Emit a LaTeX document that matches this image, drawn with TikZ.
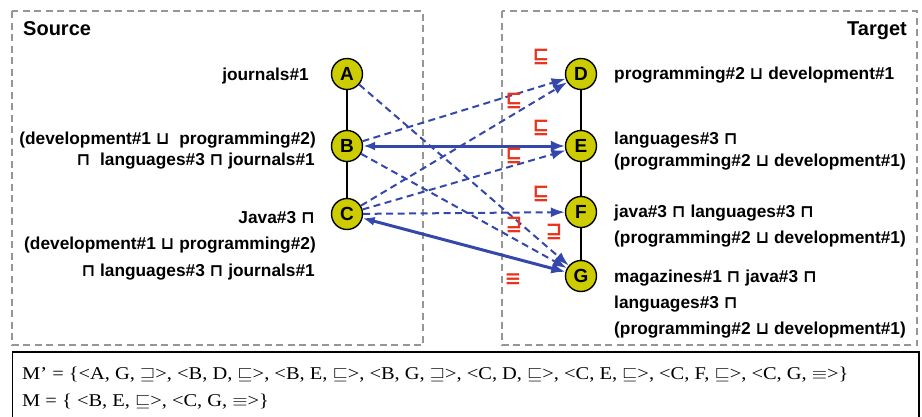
\documentclass[tikz,border=0pt]{standalone}
\usepackage{fontspec}
\setmainfont{Liberation Serif}
\newfontfamily\labelfont{Liberation Sans}
\newfontfamily\symfont{DejaVu Sans}
\usetikzlibrary{arrows.meta}

\definecolor{framegray}{RGB}{150,150,150}
\definecolor{conceptfill}{RGB}{204,204,0}
\definecolor{linkblue}{RGB}{52,72,172}
\definecolor{relred}{RGB}{232,52,30}

% lattice operators in the concept labels
\newcommand{\lmeet}{{\symfont\bfseries ⊓}}
\newcommand{\ljoin}{{\symfont\bfseries ⊔}}

\begin{document}
\begin{tikzpicture}[x=1pt,y=-1pt,
  frame/.style={draw=framegray, line width=1.4pt, dash pattern=on 7pt off 4.5pt},
  concept/.style={circle, draw=black, line width=1.4pt, fill=conceptfill,
    minimum size=31pt, inner sep=0pt, font=\labelfont\bfseries\fontsize{19}{19}\selectfont},
  txt/.style={font=\labelfont\bfseries\fontsize{17.3}{20}\selectfont, inner sep=0pt},
  title/.style={font=\labelfont\bfseries\fontsize{20}{24}\selectfont, inner sep=0pt},
  rel/.style={text=relred, font=\symfont\bfseries\fontsize{20}{20}\selectfont, inner sep=0pt},
  chain/.style={draw=black, line width=1.3pt},
  cand/.style={draw=linkblue, line width=2pt, dash pattern=on 7pt off 4.5pt,
    -{Latex[length=14pt,width=10pt]}},
  found/.style={draw=linkblue, line width=3pt,
    {Latex[length=12pt,width=9pt]}-{Latex[length=14pt,width=11pt]}},
  mapping/.style={font=\fontsize{18}{18}\selectfont, inner sep=0pt}
]
\useasboundingbox (0,0) rectangle (922,416);

% source and target frames
\draw[frame] (12,11) rectangle (423,345);
\draw[frame] (502,11) rectangle (917,345);
\node[title, anchor=base west] (srcT) at (23,35) {Source};
\node[title, anchor=base east] (tgtT) at (907,35) {Target};

% concept nodes
\node[concept] (A) at (347,74) {A};
\node[concept] (B) at (347,146) {B};
\node[concept] (C) at (347,214) {C};
\node[concept] (D) at (581,74) {D};
\node[concept] (E) at (581,146) {E};
\node[concept] (F) at (581,212) {F};
\node[concept] (G) at (581,276) {G};

% taxonomy edges
\draw[chain] (A) -- (B);
\draw[chain] (B) -- (C);
\draw[chain] (D) -- (E);
\draw[chain] (E) -- (F);
\draw[chain] (F) -- (G);

% source concept labels
\node[txt, anchor=base east] (lA) at (309,80) {journals\#1};
\node[txt, anchor=base east] (lB1) at (316,144) {(development\#1 \ljoin\ \ programming\#2)};
\node[txt, anchor=base east] (lB2) at (315,165) {\lmeet\ \ languages\#3 \lmeet\ journals\#1};
\node[txt, anchor=base east] (lC1) at (315,223) {Java\#3 \lmeet};
\node[txt, anchor=base east] (lC2) at (316,249) {(development\#1 \ljoin\ programming\#2)};
\node[txt, anchor=base east] (lC3) at (315,276) {\lmeet\ languages\#3 \lmeet\ journals\#1};

% target concept labels
\node[txt, anchor=base west] (lD) at (614,79) {programming\#2 \ljoin\ development\#1};
\node[txt, anchor=base west] (lE1) at (614,144) {languages\#3 \lmeet};
\node[txt, anchor=base west] (lE2) at (614,166) {(programming\#2 \ljoin\ development\#1)};
\node[txt, anchor=base west] (lF1) at (614,217) {java\#3 \lmeet\ languages\#3 \lmeet};
\node[txt, anchor=base west] (lF2) at (614,243) {(programming\#2 \ljoin\ development\#1)};
\node[txt, anchor=base west] (lG1) at (614,282) {magazines\#1 \lmeet\ java\#3 \lmeet};
\node[txt, anchor=base west] (lG2) at (614,308) {languages\#3 \lmeet};
\node[txt, anchor=base west] (lG3) at (614,334) {(programming\#2 \ljoin\ development\#1)};

% candidate correspondences
\draw[cand] (A) -- (G);
\draw[cand] (B) -- (D);
\draw[cand] (B) -- (G);
\draw[cand] (C) -- (D);
\draw[cand] (C) -- (E);
\draw[cand] (C) -- (F);

% retained correspondences
\draw[found] (B) -- (E);
\draw[found] (C) -- (G);

% relation symbols
\node[rel] (r1) at (541,57) {⊑};
\node[rel] (r2) at (514,101) {⊑};
\node[rel] (r3) at (541,128) {⊑};
\node[rel] (r4) at (514,156) {⊑};
\node[rel] (r5) at (541,194) {⊑};
\node[rel] (r6) at (514,225) {⊒};
\node[rel] (r7) at (554,232) {⊒};
\node[rel] (r8) at (513,280) {≡};

% mapping sets
\draw[line width=1.6pt] (12.5,352) rectangle (919,422);
\node[mapping, anchor=base west] (m1) at (22,379)
  {\scalebox{1.135}[1]{M’ = \{<A, G, $\sqsupseteq$>, <B, D, $\sqsubseteq$>, <B, E, $\sqsubseteq$>, <B, G, $\sqsupseteq$>, <C, D, $\sqsubseteq$>, <C, E, $\sqsubseteq$>, <C, F, $\sqsubseteq$>, <C, G, $\equiv$>\}}};
\node[mapping, anchor=base west] (m2) at (22,406)
  {\scalebox{1.135}[1]{M = \{ <B, E, $\sqsubseteq$>, <C, G, $\equiv$>\}}};
\end{tikzpicture}
\end{document}
